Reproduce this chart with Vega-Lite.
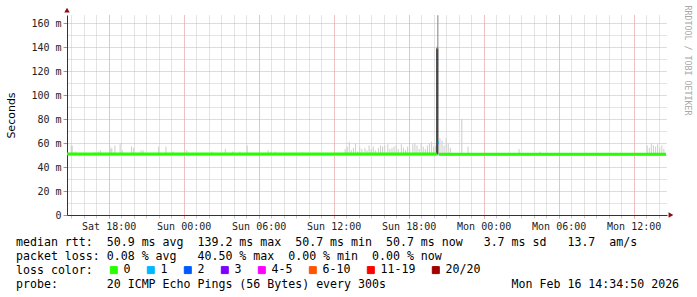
{
  "width": 600,
  "height": 200,
  "autosize": "none",
  "padding": {"left": 67, "top": 15, "right": 30, "bottom": 82},
  "background": "white",
  "config": {"view": {"stroke": null}},
  "title": {
    "text": [
      "median\u00a0rtt:\u00a0\u00a050.9\u00a0ms\u00a0avg\u00a0\u00a0139.2\u00a0ms\u00a0max\u00a0\u00a050.7\u00a0ms\u00a0min\u00a0\u00a050.7\u00a0ms\u00a0now\u00a0\u00a0\u00a03.7\u00a0ms\u00a0sd\u00a0\u00a0\u00a013.7\u00a0\u00a0am/s",
      "packet\u00a0loss:\u00a00.08\u00a0%\u00a0avg\u00a0\u00a0\u00a040.50\u00a0%\u00a0max\u00a0\u00a00.00\u00a0%\u00a0min\u00a0\u00a00.00\u00a0%\u00a0now",
      "loss\u00a0color:",
      "probe:\u00a0\u00a0\u00a0\u00a0\u00a0\u00a0\u00a020\u00a0ICMP\u00a0Echo\u00a0Pings\u00a0(56\u00a0Bytes)\u00a0every\u00a0300s\u00a0\u00a0\u00a0\u00a0\u00a0\u00a0\u00a0\u00a0\u00a0\u00a0\u00a0\u00a0\u00a0\u00a0\u00a0\u00a0\u00a0\u00a0Mon\u00a0Feb\u00a016\u00a014:34:50\u00a02026"
    ],
    "orient": "bottom",
    "anchor": "start",
    "frame": "group",
    "offset": -39,
    "dx": -51,
    "font": "DejaVu Sans Mono",
    "fontSize": 11.6,
    "fontWeight": "normal",
    "color": "#000000",
    "lineHeight": 14,
    "baseline": "top"
  },
  "datasets": {
    "smoke": [
      {"t": "2026-02-14T15:00", "lo": 0.0505, "hi": 0.058, "level": "light"},
      {"t": "2026-02-14T15:05", "lo": 0.0505, "hi": 0.058, "level": "light"},
      {"t": "2026-02-14T15:20", "lo": 0.0505, "hi": 0.053, "level": "light"},
      {"t": "2026-02-14T16:55", "lo": 0.0505, "hi": 0.052, "level": "light"},
      {"t": "2026-02-14T17:10", "lo": 0.0505, "hi": 0.053, "level": "light"},
      {"t": "2026-02-14T17:20", "lo": 0.0505, "hi": 0.054, "level": "light"},
      {"t": "2026-02-14T18:05", "lo": 0.0505, "hi": 0.058, "level": "light"},
      {"t": "2026-02-14T18:10", "lo": 0.0505, "hi": 0.055, "level": "light"},
      {"t": "2026-02-14T18:15", "lo": 0.0505, "hi": 0.056, "level": "light"},
      {"t": "2026-02-14T18:30", "lo": 0.0505, "hi": 0.058, "level": "light"},
      {"t": "2026-02-14T18:55", "lo": 0.0505, "hi": 0.060, "level": "light"},
      {"t": "2026-02-14T19:05", "lo": 0.0505, "hi": 0.054, "level": "light"},
      {"t": "2026-02-14T19:50", "lo": 0.0505, "hi": 0.057, "level": "light"},
      {"t": "2026-02-14T20:00", "lo": 0.0505, "hi": 0.056, "level": "light"},
      {"t": "2026-02-14T20:35", "lo": 0.0505, "hi": 0.054, "level": "light"},
      {"t": "2026-02-14T20:45", "lo": 0.0505, "hi": 0.054, "level": "light"},
      {"t": "2026-02-14T22:00", "lo": 0.0505, "hi": 0.057, "level": "light"},
      {"t": "2026-02-14T22:35", "lo": 0.0505, "hi": 0.057, "level": "light"},
      {"t": "2026-02-14T23:10", "lo": 0.0505, "hi": 0.053, "level": "light"},
      {"t": "2026-02-15T00:15", "lo": 0.0505, "hi": 0.054, "level": "light"},
      {"t": "2026-02-15T02:15", "lo": 0.0505, "hi": 0.053, "level": "light"},
      {"t": "2026-02-15T03:20", "lo": 0.0505, "hi": 0.055, "level": "light"},
      {"t": "2026-02-15T03:55", "lo": 0.0505, "hi": 0.053, "level": "light"},
      {"t": "2026-02-15T04:30", "lo": 0.0505, "hi": 0.053, "level": "light"},
      {"t": "2026-02-15T05:05", "lo": 0.0505, "hi": 0.058, "level": "light"},
      {"t": "2026-02-15T06:45", "lo": 0.0505, "hi": 0.054, "level": "light"},
      {"t": "2026-02-15T07:00", "lo": 0.0505, "hi": 0.053, "level": "light"},
      {"t": "2026-02-15T07:20", "lo": 0.0505, "hi": 0.053, "level": "light"},
      {"t": "2026-02-15T09:30", "lo": 0.0505, "hi": 0.052, "level": "light"},
      {"t": "2026-02-15T12:55", "lo": 0.0505, "hi": 0.055, "level": "light"},
      {"t": "2026-02-15T13:05", "lo": 0.0505, "hi": 0.057, "level": "light"},
      {"t": "2026-02-15T13:15", "lo": 0.0505, "hi": 0.061, "level": "light"},
      {"t": "2026-02-15T13:25", "lo": 0.0505, "hi": 0.054, "level": "light"},
      {"t": "2026-02-15T13:35", "lo": 0.0505, "hi": 0.056, "level": "light"},
      {"t": "2026-02-15T13:45", "lo": 0.0505, "hi": 0.0597, "level": "light"},
      {"t": "2026-02-15T13:55", "lo": 0.0505, "hi": 0.053, "level": "light"},
      {"t": "2026-02-15T14:05", "lo": 0.0505, "hi": 0.057, "level": "light"},
      {"t": "2026-02-15T14:15", "lo": 0.0505, "hi": 0.055, "level": "light"},
      {"t": "2026-02-15T14:30", "lo": 0.0505, "hi": 0.056, "level": "light"},
      {"t": "2026-02-15T14:40", "lo": 0.0505, "hi": 0.054, "level": "light"},
      {"t": "2026-02-15T14:50", "lo": 0.0505, "hi": 0.058, "level": "light"},
      {"t": "2026-02-15T15:00", "lo": 0.0505, "hi": 0.055, "level": "light"},
      {"t": "2026-02-15T15:10", "lo": 0.0505, "hi": 0.057, "level": "light"},
      {"t": "2026-02-15T15:20", "lo": 0.0505, "hi": 0.054, "level": "light"},
      {"t": "2026-02-15T15:35", "lo": 0.0505, "hi": 0.056, "level": "light"},
      {"t": "2026-02-15T15:45", "lo": 0.0505, "hi": 0.058, "level": "light"},
      {"t": "2026-02-15T15:55", "lo": 0.0505, "hi": 0.057, "level": "light"},
      {"t": "2026-02-15T16:05", "lo": 0.0505, "hi": 0.058, "level": "light"},
      {"t": "2026-02-15T16:20", "lo": 0.0505, "hi": 0.059, "level": "light"},
      {"t": "2026-02-15T16:30", "lo": 0.0505, "hi": 0.055, "level": "light"},
      {"t": "2026-02-15T16:40", "lo": 0.0505, "hi": 0.056, "level": "light"},
      {"t": "2026-02-15T16:50", "lo": 0.0505, "hi": 0.057, "level": "light"},
      {"t": "2026-02-15T17:00", "lo": 0.0505, "hi": 0.058, "level": "light"},
      {"t": "2026-02-15T17:10", "lo": 0.0505, "hi": 0.055, "level": "light"},
      {"t": "2026-02-15T17:25", "lo": 0.0505, "hi": 0.059, "level": "light"},
      {"t": "2026-02-15T17:35", "lo": 0.0505, "hi": 0.056, "level": "light"},
      {"t": "2026-02-15T17:45", "lo": 0.0505, "hi": 0.054, "level": "light"},
      {"t": "2026-02-15T17:55", "lo": 0.0505, "hi": 0.057, "level": "light"},
      {"t": "2026-02-15T18:05", "lo": 0.0505, "hi": 0.055, "level": "light"},
      {"t": "2026-02-15T18:20", "lo": 0.0505, "hi": 0.059, "level": "light"},
      {"t": "2026-02-15T18:30", "lo": 0.0505, "hi": 0.060, "level": "light"},
      {"t": "2026-02-15T18:40", "lo": 0.0505, "hi": 0.058, "level": "light"},
      {"t": "2026-02-15T18:50", "lo": 0.0505, "hi": 0.055, "level": "light"},
      {"t": "2026-02-15T19:00", "lo": 0.0505, "hi": 0.060, "level": "light"},
      {"t": "2026-02-15T19:10", "lo": 0.0505, "hi": 0.057, "level": "light"},
      {"t": "2026-02-15T19:20", "lo": 0.0505, "hi": 0.055, "level": "light"},
      {"t": "2026-02-15T19:30", "lo": 0.0505, "hi": 0.058, "level": "light"},
      {"t": "2026-02-15T19:40", "lo": 0.0505, "hi": 0.060, "level": "light"},
      {"t": "2026-02-15T19:50", "lo": 0.0505, "hi": 0.061, "level": "light"},
      {"t": "2026-02-15T20:00", "lo": 0.0505, "hi": 0.057, "level": "light"},
      {"t": "2026-02-15T20:10", "lo": 0.0505, "hi": 0.058, "level": "light"},
      {"t": "2026-02-15T20:30", "lo": 0.0505, "hi": 0.064, "level": "light"},
      {"t": "2026-02-15T20:40", "lo": 0.0505, "hi": 0.062, "level": "light"},
      {"t": "2026-02-15T20:50", "lo": 0.0505, "hi": 0.058, "level": "light"},
      {"t": "2026-02-15T21:00", "lo": 0.0505, "hi": 0.064, "level": "light"},
      {"t": "2026-02-15T21:10", "lo": 0.0505, "hi": 0.060, "level": "light"},
      {"t": "2026-02-15T21:20", "lo": 0.0505, "hi": 0.056, "level": "light"},
      {"t": "2026-02-15T22:15", "lo": 0.0505, "hi": 0.080, "level": "light"},
      {"t": "2026-02-15T22:45", "lo": 0.0505, "hi": 0.057, "level": "light"},
      {"t": "2026-02-16T02:50", "lo": 0.0505, "hi": 0.055, "level": "light"},
      {"t": "2026-02-16T04:30", "lo": 0.0505, "hi": 0.053, "level": "light"},
      {"t": "2026-02-16T13:05", "lo": 0.0505, "hi": 0.058, "level": "light"},
      {"t": "2026-02-16T13:15", "lo": 0.0505, "hi": 0.056, "level": "light"},
      {"t": "2026-02-16T13:25", "lo": 0.0505, "hi": 0.060, "level": "light"},
      {"t": "2026-02-16T13:35", "lo": 0.0505, "hi": 0.058, "level": "light"},
      {"t": "2026-02-16T13:45", "lo": 0.0505, "hi": 0.057, "level": "light"},
      {"t": "2026-02-16T13:55", "lo": 0.0505, "hi": 0.059, "level": "light"},
      {"t": "2026-02-16T14:05", "lo": 0.0505, "hi": 0.056, "level": "light"},
      {"t": "2026-02-16T14:15", "lo": 0.0505, "hi": 0.058, "level": "light"},
      {"t": "2026-02-16T14:25", "lo": 0.0505, "hi": 0.055, "level": "light"},
      {"t": "2026-02-15T20:20", "lo": 0.139, "hi": 0.1665, "level": "mid"}
    ],
    "core": [
      {"t": "2026-02-15T20:15", "lo": 0.0505, "hi": 0.139},
      {"t": "2026-02-15T20:20", "lo": 0.0505, "hi": 0.139}
    ],
    "median": [
      {"t0": "2026-02-14T14:40", "t1": "2026-02-15T20:15", "med": 0.0509, "loss": "0"},
      {"t0": "2026-02-15T20:15", "t1": "2026-02-15T20:20", "med": 0.1392, "loss": "6-10"},
      {"t0": "2026-02-15T20:20", "t1": "2026-02-15T20:25", "med": 0.0603, "loss": "1"},
      {"t0": "2026-02-15T20:25", "t1": "2026-02-16T14:35", "med": 0.0507, "loss": "0"}
    ]
  },
  "resolve": {"axis": {"x": "independent", "y": "independent"}},
  "layer": [
    {
      "data": {"name": "smoke"},
      "mark": {"type": "rule", "strokeWidth": 1.1},
      "encoding": {
        "x": {
          "field": "t", "type": "temporal",
          "scale": {"domain": [{"year": 2026, "month": 2, "date": 14, "hours": 14, "minutes": 40}, {"year": 2026, "month": 2, "date": 16, "hours": 14, "minutes": 40}], "nice": false},
          "axis": {"orient": "bottom", "values": [
            {"year": 2026, "month": 2, "date": 14, "hours": 15}, {"year": 2026, "month": 2, "date": 14, "hours": 16}, {"year": 2026, "month": 2, "date": 14, "hours": 17}, {"year": 2026, "month": 2, "date": 14, "hours": 18}, {"year": 2026, "month": 2, "date": 14, "hours": 19}, {"year": 2026, "month": 2, "date": 14, "hours": 20}, {"year": 2026, "month": 2, "date": 14, "hours": 21}, {"year": 2026, "month": 2, "date": 14, "hours": 22}, {"year": 2026, "month": 2, "date": 14, "hours": 23},
            {"year": 2026, "month": 2, "date": 15, "hours": 0}, {"year": 2026, "month": 2, "date": 15, "hours": 1}, {"year": 2026, "month": 2, "date": 15, "hours": 2}, {"year": 2026, "month": 2, "date": 15, "hours": 3}, {"year": 2026, "month": 2, "date": 15, "hours": 4}, {"year": 2026, "month": 2, "date": 15, "hours": 5}, {"year": 2026, "month": 2, "date": 15, "hours": 6}, {"year": 2026, "month": 2, "date": 15, "hours": 7}, {"year": 2026, "month": 2, "date": 15, "hours": 8}, {"year": 2026, "month": 2, "date": 15, "hours": 9}, {"year": 2026, "month": 2, "date": 15, "hours": 10}, {"year": 2026, "month": 2, "date": 15, "hours": 11},
            {"year": 2026, "month": 2, "date": 15, "hours": 12}, {"year": 2026, "month": 2, "date": 15, "hours": 13}, {"year": 2026, "month": 2, "date": 15, "hours": 14}, {"year": 2026, "month": 2, "date": 15, "hours": 15}, {"year": 2026, "month": 2, "date": 15, "hours": 16}, {"year": 2026, "month": 2, "date": 15, "hours": 17}, {"year": 2026, "month": 2, "date": 15, "hours": 18}, {"year": 2026, "month": 2, "date": 15, "hours": 19}, {"year": 2026, "month": 2, "date": 15, "hours": 20}, {"year": 2026, "month": 2, "date": 15, "hours": 21}, {"year": 2026, "month": 2, "date": 15, "hours": 22}, {"year": 2026, "month": 2, "date": 15, "hours": 23},
            {"year": 2026, "month": 2, "date": 16, "hours": 0}, {"year": 2026, "month": 2, "date": 16, "hours": 1}, {"year": 2026, "month": 2, "date": 16, "hours": 2}, {"year": 2026, "month": 2, "date": 16, "hours": 3}, {"year": 2026, "month": 2, "date": 16, "hours": 4}, {"year": 2026, "month": 2, "date": 16, "hours": 5}, {"year": 2026, "month": 2, "date": 16, "hours": 6}, {"year": 2026, "month": 2, "date": 16, "hours": 7}, {"year": 2026, "month": 2, "date": 16, "hours": 8}, {"year": 2026, "month": 2, "date": 16, "hours": 9}, {"year": 2026, "month": 2, "date": 16, "hours": 10}, {"year": 2026, "month": 2, "date": 16, "hours": 11},
            {"year": 2026, "month": 2, "date": 16, "hours": 12}, {"year": 2026, "month": 2, "date": 16, "hours": 13}, {"year": 2026, "month": 2, "date": 16, "hours": 14}
          ], "labels": false, "ticks": true, "tickSize": 3, "tickColor": "#c8c8c8", "domain": false, "grid": true, "gridColor": "#c8c8c8", "gridDash": [1, 1], "gridWidth": 1, "title": null}
        },
        "y": {
          "field": "lo", "type": "quantitative",
          "scale": {"domain": [0, 0.16667], "nice": false},
          "axis": {"orient": "left", "values": [0.01, 0.03, 0.05, 0.07, 0.09, 0.11, 0.13, 0.15], "labels": false, "ticks": false, "domain": false, "grid": true, "gridColor": "#c8c8c8", "gridDash": [1, 1], "gridWidth": 1, "title": null}
        },
        "y2": {"field": "hi"},
        "stroke": {"field": "level", "type": "nominal", "scale": {"domain": ["light", "mid"], "range": ["#d0d0d0", "#8c8c8c"]}, "legend": null}
      }
    },
    {
      "data": {"name": "core"},
      "mark": {"type": "rule", "strokeWidth": 1.1, "color": "#1e1e1e"},
      "encoding": {
        "x": {"field": "t", "type": "temporal", "axis": null},
        "y": {
          "field": "lo", "type": "quantitative",
          "axis": {"orient": "right", "labels": false, "ticks": false, "domain": false, "grid": false, "title": "RRDTOOL / TOBI OETIKER", "titleAngle": 90, "titleX": 19, "titleY": -10, "titleAlign": "left", "titleBaseline": "middle", "titleFont": "DejaVu Sans Mono", "titleFontSize": 8.3, "titleFontWeight": "normal", "titleColor": "#a8a8a8"}
        },
        "y2": {"field": "hi"}
      }
    },
    {
      "data": {"name": "median"},
      "mark": {"type": "rule", "strokeWidth": 3, "strokeCap": "butt"},
      "encoding": {
        "x": {
          "field": "t0", "type": "temporal",
          "axis": {"orient": "bottom", "values": [{"year": 2026, "month": 2, "date": 14, "hours": 18}, {"year": 2026, "month": 2, "date": 15, "hours": 0}, {"year": 2026, "month": 2, "date": 15, "hours": 6}, {"year": 2026, "month": 2, "date": 15, "hours": 12}, {"year": 2026, "month": 2, "date": 15, "hours": 18}, {"year": 2026, "month": 2, "date": 16, "hours": 0}, {"year": 2026, "month": 2, "date": 16, "hours": 6}, {"year": 2026, "month": 2, "date": 16, "hours": 12}], "format": "%a %H:%M", "labelFont": "DejaVu Sans Mono", "labelFontSize": 10, "labelColor": "#222222", "labelPadding": 3, "ticks": true, "tickSize": 3, "tickColor": "#f0a0a0", "domain": true, "domainColor": "#333333", "domainWidth": 1, "grid": true, "gridColor": "#f4a0a0", "gridDash": [1, 1], "gridWidth": 1, "title": null}
        },
        "x2": {"field": "t1"},
        "y": {
          "field": "med", "type": "quantitative",
          "axis": {"orient": "left", "values": [0, 0.02, 0.04, 0.06, 0.08, 0.1, 0.12, 0.14, 0.16], "labelExpr": "datum.value == 0 ? '0\u00a0\u00a0' : format(datum.value * 1000, 'd') + ' m'", "labelFont": "DejaVu Sans Mono", "labelFontSize": 10, "labelColor": "#222222", "labelPadding": 2, "ticks": true, "tickSize": 4, "tickColor": "#999999", "domain": true, "domainColor": "#333333", "domainWidth": 1, "grid": true, "gridColor": "#f4a0a0", "gridDash": [1, 1], "gridWidth": 1, "title": "Seconds", "titleFont": "DejaVu Sans", "titleFontSize": 11, "titleFontWeight": "normal", "titleColor": "#000000", "titleAngle": -90, "titleX": -56, "titleY": 100, "titleAlign": "center", "titleBaseline": "middle"}
        },
        "color": {
          "field": "loss", "type": "nominal",
          "scale": {"domain": ["0", "1", "2", "3", "4-5", "6-10", "11-19", "20/20"], "range": ["#26ff00", "#00b8ff", "#0059ff", "#7e00ff", "#ff00ff", "#ff5500", "#ff0000", "#a10000"]},
          "legend": {
            "orient": "none", "legendX": 41, "legendY": 249, "direction": "horizontal",
            "title": null,
            "labelFont": "DejaVu Sans Mono", "labelFontSize": 11.6, "labelColor": "#000000", "labelOffset": 4,
            "columnPadding": 14, "symbolType": "square", "symbolSize": 49, "symbolStrokeWidth": 1, "symbolStrokeColor": "#000000",
            "encode": {"symbols": {"update": {"fill": {"scale": "color", "field": "value"}, "stroke": {"value": "#000000"}, "fillOpacity": {"value": 1}, "strokeWidth": {"value": 1}}}}
          }
        }
      }
    },
    {
      "data": {"values": [{}]},
      "mark": {"type": "point", "shape": "triangle-up", "size": 30, "filled": true, "color": "#8b1010", "opacity": 1},
      "encoding": {
        "x": {"datum": {"year": 2026, "month": 2, "date": 14, "hours": 14, "minutes": 40}, "type": "temporal", "axis": null},
        "y": {"datum": 0.1708, "type": "quantitative", "axis": null}
      }
    },
    {
      "data": {"values": [{}]},
      "mark": {"type": "point", "shape": "triangle-right", "size": 30, "filled": true, "color": "#8b1010", "opacity": 1},
      "encoding": {
        "x": {"datum": {"year": 2026, "month": 2, "date": 16, "hours": 14, "minutes": 59}, "type": "temporal", "axis": null},
        "y": {"datum": 0, "type": "quantitative", "axis": null}
      }
    }
  ]
}
